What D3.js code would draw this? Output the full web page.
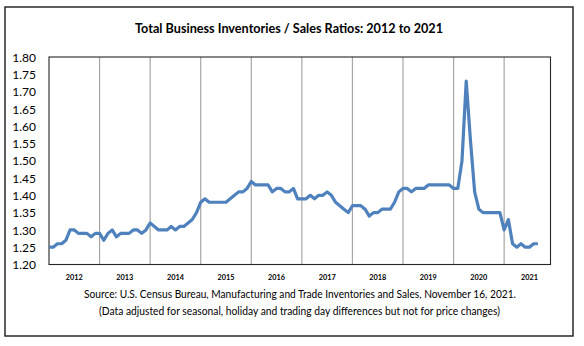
<!DOCTYPE html>
<html>
<head>
<meta charset="utf-8">
<script src="https://cdn.jsdelivr.net/npm/d3@7"></script>
<style>
  body{margin:0;background:#fff;}
  svg{display:block;}
  text{font-family:Lato,"Liberation Sans",sans-serif;fill:#000;}
</style>
</head>
<body>
<svg class="svg" width="584" height="346"></svg>
<script>
// monthly ratio, Jan 2012 .. Sep 2021
var ratios2012=[1.25,1.25,1.26,1.26,1.27,1.30,1.30,1.29,1.29,1.29,1.28,1.29];
var ratios2013=[1.29,1.27,1.29,1.30,1.28,1.29,1.29,1.29,1.30,1.30,1.29,1.30];
var ratios2014=[1.32,1.31,1.30,1.30,1.30,1.31,1.30,1.31,1.31,1.32,1.33,1.35];
var ratios2015=[1.38,1.39,1.38,1.38,1.38,1.38,1.38,1.39,1.40,1.41,1.41,1.42];
var ratios2016=[1.44,1.43,1.43,1.43,1.43,1.41,1.42,1.42,1.41,1.41,1.42,1.39];
var ratios2017=[1.39,1.39,1.40,1.39,1.40,1.40,1.41,1.40,1.38,1.37,1.36,1.35];
var ratios2018=[1.37,1.37,1.37,1.36,1.34,1.35,1.35,1.36,1.36,1.36,1.38,1.41];
var ratios2019=[1.42,1.42,1.41,1.42,1.42,1.42,1.43,1.43,1.43,1.43,1.43,1.43];
var ratios2020=[1.42,1.42,1.50,1.73,1.56,1.41,1.36,1.35,1.35,1.35,1.35,1.35];
var ratios2021=[1.30,1.33,1.26,1.25,1.26,1.25,1.25,1.26,1.26];
var years=["2012","2013","2014","2015","2016","2017","2018","2019","2020","2021"];
var yTicks=[1.20,1.25,1.30,1.35,1.40,1.45,1.50,1.55,1.60,1.65,1.70,1.75,1.80];
var title="Total Business Inventories / Sales Ratios: 2012 to 2021";
var source1="Source: U.S. Census Bureau, Manufacturing and Trade Inventories and Sales, November 16, 2021.";
var source2="(Data adjusted for seasonal, holiday and trading day differences but not for price changes)";

var values=[].concat(ratios2012,ratios2013,ratios2014,ratios2015,ratios2016,
    ratios2017,ratios2018,ratios2019,ratios2020,ratios2021);
var nMonths=years.length*12;

var svg=d3.select(".svg");

//outer frame
svg.append("rect").attr("x",5).attr("y",7).attr("width",568).attr("height",329)
    .attr("fill","none").attr("stroke","#1a1a1a").attr("stroke-width",1.4);

var plotL=49,plotR=550.5,plotT=57,plotB=264.5;
var x=d3.scaleLinear().domain([0,nMonths-1]).range([plotL,plotR]);
var y=d3.scaleLinear().domain([1.20,1.80]).range([plotB,plotT]);

//year gridlines
var grid=svg.append("g").attr("class","grid");
for(var i=1;i<years.length;i++){
    grid.append("line").attr("x1",x(i*12)).attr("x2",x(i*12))
        .attr("y1",plotT).attr("y2",plotB)
        .attr("stroke","#a6a6a6").attr("stroke-width",1.2);
}

//plot frame
svg.append("rect").attr("x",plotL).attr("y",plotT).attr("width",plotR-plotL).attr("height",plotB-plotT)
    .attr("fill","none").attr("stroke","#262626").attr("stroke-width",1.1);

//y axis labels
var yAxis=svg.append("g").attr("transform","translate("+(plotL-13)+",0)")
    .call(d3.axisLeft(y).tickValues(yTicks).tickFormat(d3.format(".2f")).tickSize(0));
yAxis.select(".domain").remove();
yAxis.selectAll("text").attr("x",0).attr("dy","0.35em")
    .style("font-family","Lato,'Liberation Sans',sans-serif").style("font-size","12px").attr("fill","#000");

//year labels
var yearText=svg.append("g").attr("class","year-text");
yearText.selectAll("text").data(years).enter().append("text")
    .attr("x",function(d,i){ return x(i*12+6); })
    .attr("y",280)
    .attr("text-anchor","middle")
    .attr("textLength",17).attr("lengthAdjust","spacingAndGlyphs")
    .style("font-size","8px").style("font-weight","bold")
    .text(function(d){ return d; });

//the series
var line=d3.line().x(function(d,i){ return x(i); }).y(function(d){ return y(d); });
svg.append("path").datum(values).attr("d",line)
    .attr("fill","none").attr("stroke","#4f81bd").attr("stroke-width",3.2)
    .attr("stroke-linejoin","round");

//title + source
svg.append("text").attr("x",289).attr("y",33).attr("text-anchor","middle")
    .attr("textLength",308).attr("lengthAdjust","spacingAndGlyphs")
    .style("font-size","13px").style("font-weight","bold").text(title);
svg.append("text").attr("x",300).attr("y",298).attr("text-anchor","middle")
    .attr("textLength",432).attr("lengthAdjust","spacingAndGlyphs")
    .style("font-size","11px").text(source1);
svg.append("text").attr("x",299.5).attr("y",314.5).attr("text-anchor","middle")
    .attr("textLength",401).attr("lengthAdjust","spacingAndGlyphs")
    .style("font-size","11px").text(source2);
</script>
</body>
</html>
